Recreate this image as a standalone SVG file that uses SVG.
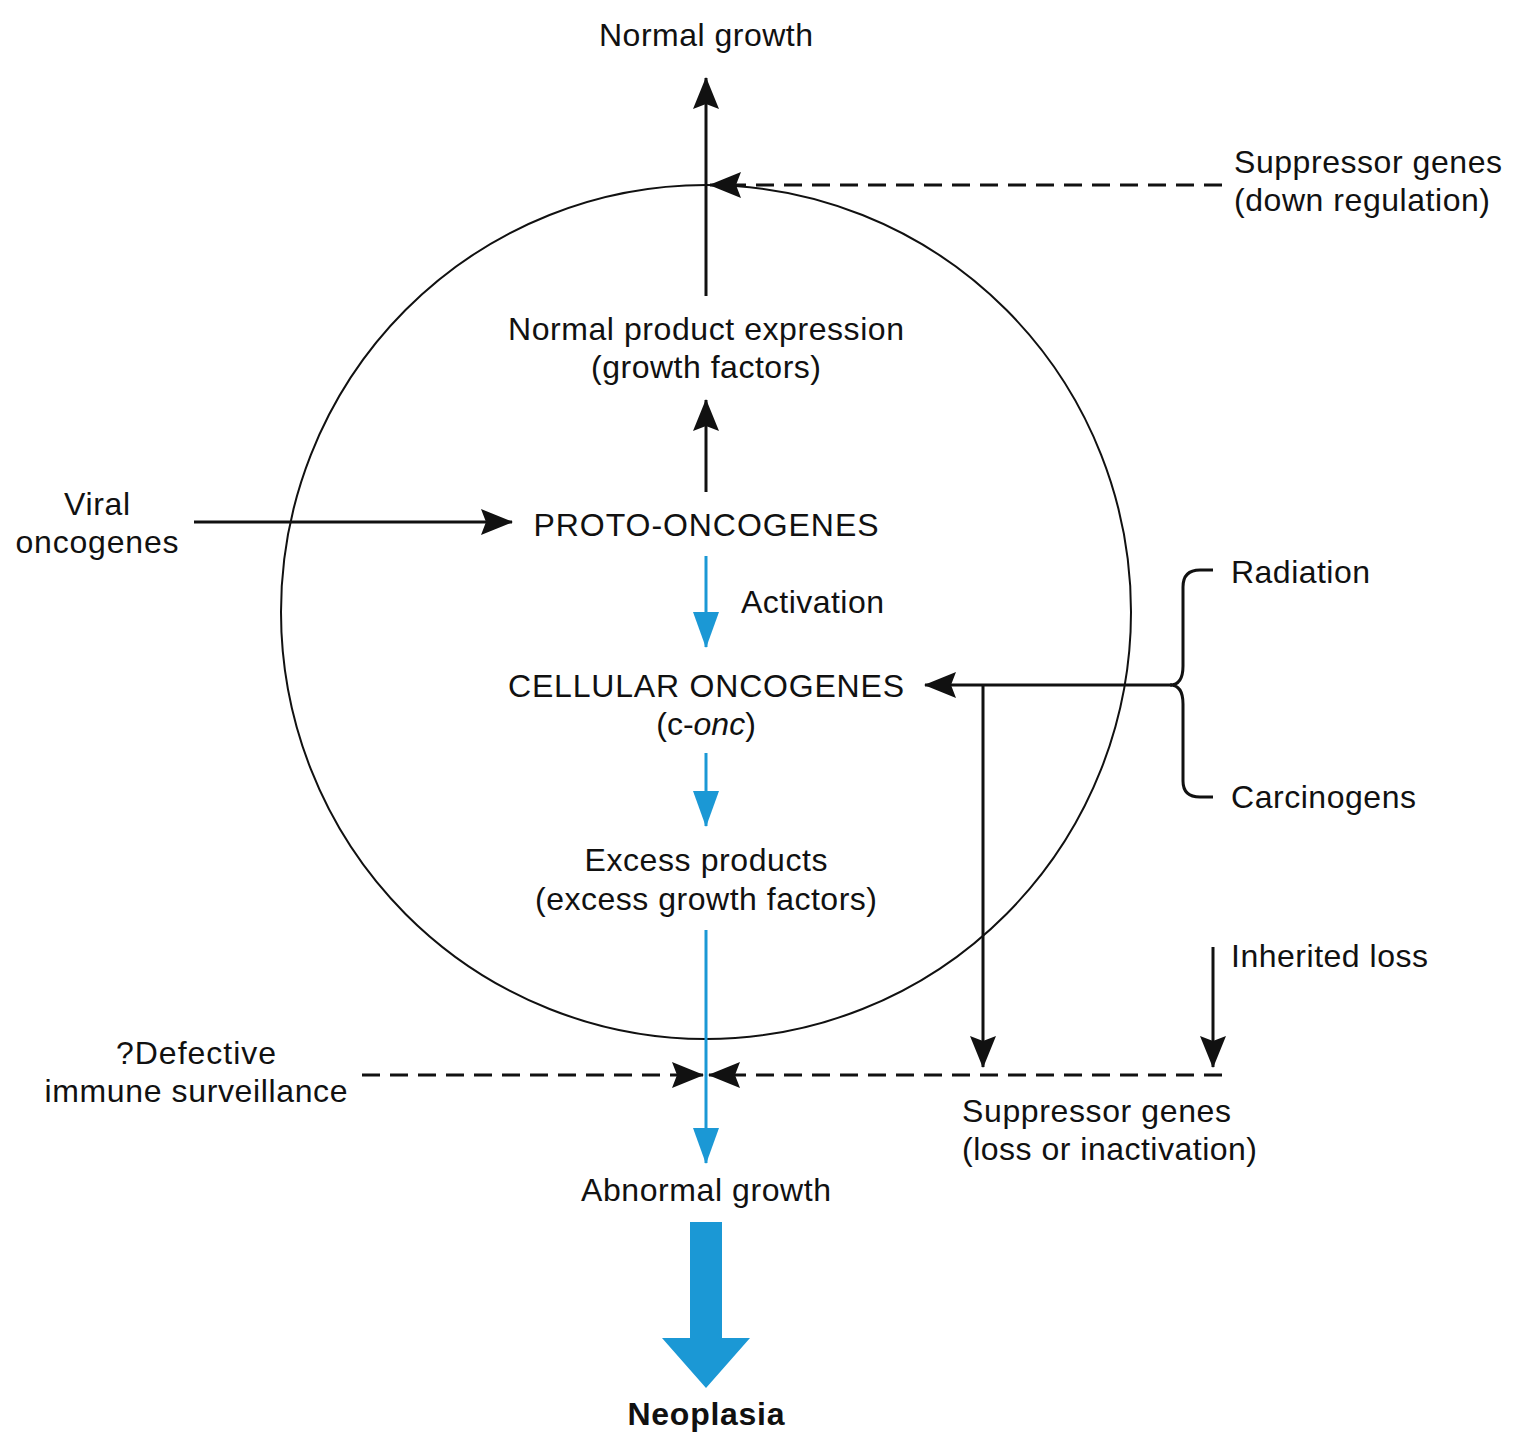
<svg xmlns="http://www.w3.org/2000/svg" width="1513" height="1440" viewBox="0 0 1513 1440">
<style>
text{font-family:"Liberation Sans",Arial,sans-serif;font-size:32px;fill:#111}
.c{text-anchor:middle}
.k{stroke:#111;stroke-width:3;fill:none}
.d{stroke:#111;stroke-width:3;fill:none;stroke-dasharray:18 10}
.b{stroke:#1b98d5;stroke-width:3;fill:none}
</style>
<defs>
<marker id="ak" markerUnits="userSpaceOnUse" viewBox="0 0 32 26" refX="31" refY="13" markerWidth="32" markerHeight="26" orient="auto"><path d="M0,0 L32,13 L0,26 L5,13 Z" fill="#111"/></marker>
<marker id="ab" markerUnits="userSpaceOnUse" viewBox="0 0 36 26" refX="35" refY="13" markerWidth="36" markerHeight="26" orient="auto"><path d="M0,0 L36,13 L0,26 Z" fill="#1b98d5"/></marker>
</defs>
<rect width="1513" height="1440" fill="#fff"/>
<g id="cell"><ellipse cx="706" cy="612" rx="425" ry="427" fill="none" stroke="#111" stroke-width="2"/></g>
<g id="connectors">
<line class="k" x1="706" y1="296" x2="706" y2="78" marker-end="url(#ak)"/>
<line class="d" x1="1222" y1="185" x2="710" y2="185" marker-end="url(#ak)"/>
<line class="k" x1="706" y1="492" x2="706" y2="400" marker-end="url(#ak)"/>
<line class="k" x1="194" y1="522" x2="512" y2="522" marker-end="url(#ak)"/>
<line class="b" x1="706" y1="556" x2="706" y2="647" marker-end="url(#ab)"/>
<line class="b" x1="706" y1="753" x2="706" y2="826" marker-end="url(#ab)"/>
<line class="b" x1="706" y1="930" x2="706" y2="1163" marker-end="url(#ab)"/>
<line class="d" x1="362" y1="1075" x2="703" y2="1075" marker-end="url(#ak)"/>
<line class="d" x1="1222" y1="1075" x2="709" y2="1075" marker-end="url(#ak)"/>
<line class="k" x1="1172" y1="685" x2="925" y2="685" marker-end="url(#ak)"/>
<line class="k" x1="983" y1="685" x2="983" y2="1067" marker-end="url(#ak)"/>
<line class="k" x1="1213" y1="947" x2="1213" y2="1067" marker-end="url(#ak)"/>
<path class="k" d="M1213,570 H1200 Q1183,570 1183,587 V666 Q1183,685 1170,685 Q1183,685 1183,704 V781 Q1183,797 1200,797 H1213"/>
<path d="M690,1222 H722 V1338 H750 L706,1388 L662,1338 H690 Z" fill="#1b98d5"/>
</g>
<g id="n-normal-growth"><text class="c" x="706" y="46" textLength="214">Normal growth</text></g>
<g id="n-suppressor-down"><text x="1234" y="173" textLength="268">Suppressor genes</text><text x="1234" y="211" textLength="256">(down regulation)</text></g>
<g id="n-normal-product"><text class="c" x="706" y="340" textLength="396">Normal product expression</text><text class="c" x="706" y="378" textLength="230">(growth factors)</text></g>
<g id="n-viral"><text class="c" x="97" y="515" textLength="66">Viral</text><text class="c" x="97" y="553" textLength="163">oncogenes</text></g>
<g id="n-proto"><text class="c" x="706" y="536" textLength="345">PROTO-ONCOGENES</text></g>
<g id="n-activation"><text x="741" y="613" textLength="143">Activation</text></g>
<g id="n-radiation"><text x="1231" y="583" textLength="139">Radiation</text></g>
<g id="n-cellular"><text class="c" x="706" y="697" textLength="396">CELLULAR ONCOGENES</text><text class="c" x="706" y="735">(c-<tspan font-style="italic">onc</tspan>)</text></g>
<g id="n-carcinogens"><text x="1231" y="808" textLength="185">Carcinogens</text></g>
<g id="n-excess"><text class="c" x="706" y="871" textLength="243">Excess products</text><text class="c" x="706" y="910" textLength="342">(excess growth factors)</text></g>
<g id="n-inherited"><text x="1231" y="967" textLength="197">Inherited loss</text></g>
<g id="n-defective"><text class="c" x="196" y="1064" textLength="160">?Defective</text><text class="c" x="196" y="1102" textLength="303">immune surveillance</text></g>
<g id="n-suppressor-loss"><text x="962" y="1122" textLength="269">Suppressor genes</text><text x="962" y="1160" textLength="295">(loss or inactivation)</text></g>
<g id="n-abnormal"><text class="c" x="706" y="1201" textLength="250">Abnormal growth</text></g>
<g id="n-neoplasia"><text class="c" x="706" y="1425" font-weight="bold" textLength="157">Neoplasia</text></g>
</svg>
